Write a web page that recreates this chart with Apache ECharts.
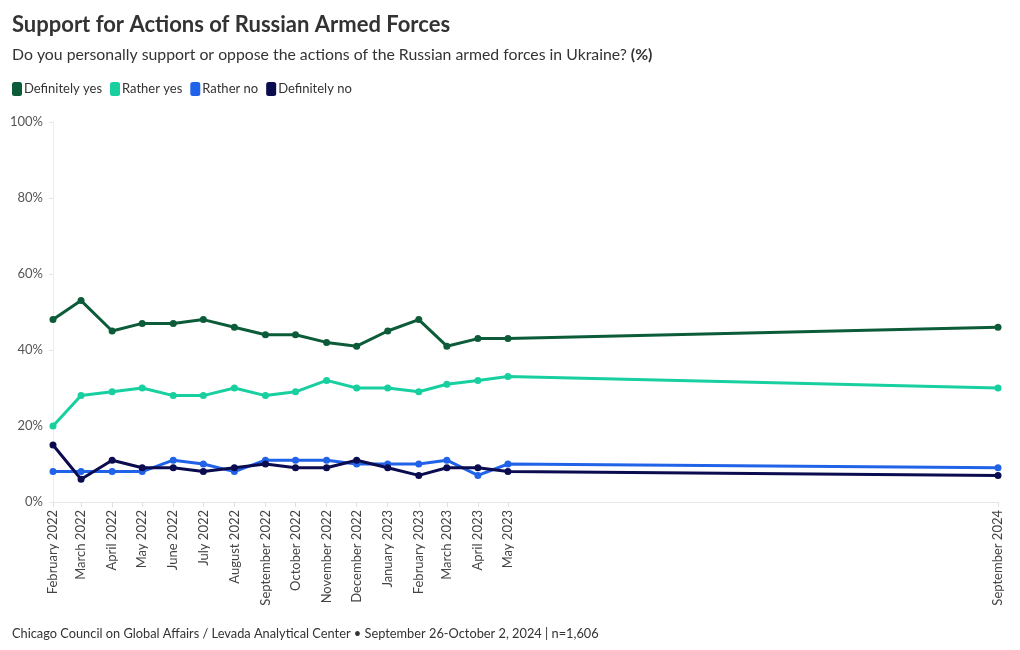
<!DOCTYPE html>
<html><head><meta charset="utf-8">
<script src="https://cdn.jsdelivr.net/npm/echarts@6/dist/echarts.min.js"></script>
<style>html,body{margin:0;padding:0;background:#fff}#c{width:1020px;height:650px}</style>
</head><body><div id="c"></div>
<script>
const months = ['2022-02-01','2022-03-01','2022-04-01','2022-05-01','2022-06-01','2022-07-01','2022-08-01','2022-09-01','2022-10-01','2022-11-01','2022-12-01','2023-01-01','2023-02-01','2023-03-01','2023-04-01','2023-05-01','2024-09-01'];
const monthNames = ['January','February','March','April','May','June','July','August','September','October','November','December'];
const definitelyYes = [48,53,45,47,47,48,46,44,44,42,41,45,48,41,43,43,46];
const ratherYes     = [20,28,29,30,28,28,30,28,29,32,30,30,29,31,32,33,30];
const ratherNo      = [8,8,8,8,11,10,8,11,11,11,10,10,10,11,7,10,9];
const definitelyNo  = [15,6,11,9,9,8,9,10,9,9,11,9,7,9,9,8,7];
const yTicks = [0,20,40,60,80,100];

const FONT = 'Lato';
const DAY = 86400000;
const times = months.map(m => { const [y,mo,d] = m.split('-').map(Number); return Date.UTC(y,mo-1,d) / DAY; });
function mk(name, data, color) {
  return {
    name, type: 'line', data: data.map((v,i)=>[times[i], v]),
    symbol: 'circle', symbolSize: 7, lineStyle: {width: 3, color}, itemStyle: {color},
    emphasis: {disabled: true}, z: 2
  };
}
const chart = echarts.init(document.getElementById('c'), null, {renderer: 'canvas'});
chart.setOption({
  animation: false,
  textStyle: {fontFamily: FONT},
  title: [
    {text: 'Support for Actions of Russian Armed Forces', left: 7, top: 9, textStyle: {fontFamily: FONT, fontSize: 22, fontWeight: 'bold', color: '#333'}},
    {text: 'Do you personally support or oppose the actions of the Russian armed forces in Ukraine? {b|(%)}', left: 7, top: 42,
     textStyle: {fontFamily: FONT, fontSize: 15.8, fontWeight: 'normal', color: '#333', rich: {b: {fontFamily: FONT, fontSize: 15.8, fontWeight: 'bold', color: '#333'}}}},
    {text: 'Chicago Council on Global Affairs / Levada Analytical Center • September 26-October 2, 2024 | n=1,606', left: 7, top: 622,
     textStyle: {fontFamily: FONT, fontSize: 12.8, fontWeight: 'normal', color: '#333'}}
  ],
  legend: {
    left: 7, top: 77, itemWidth: 10, itemHeight: 14, itemGap: 8,
    icon: 'roundRect',
    textStyle: {fontFamily: FONT, fontSize: 13, color: '#333', padding: [0,0,0,-3]},
    data: ['Definitely yes','Rather yes','Rather no','Definitely no']
  },
  grid: {left: 53, right: 22, top: 122, bottom: 148, containLabel: false},
  xAxis: {
    type: 'value', min: times[0], max: times[times.length-1],
    axisLine: {show: true, lineStyle: {color: '#e6e6e6'}},
    axisTick: {show: true, customValues: times, length: 5, lineStyle: {color: '#e0e0e0'}},
    splitLine: {show: false},
    axisLabel: {
      customValues: times, rotate: 90, fontFamily: FONT, fontSize: 13, color: '#444', margin: 8,
      formatter: v => { const d = new Date(v * DAY); return monthNames[d.getUTCMonth()] + ' ' + d.getUTCFullYear(); }
    }
  },
  yAxis: {
    type: 'value', min: 0, max: 100, interval: 20,
    axisLine: {show: true, lineStyle: {color: '#eeeeee'}},
    axisTick: {show: true, length: 4, lineStyle: {color: '#e6e6e6'}},
    splitLine: {show: false},
    axisLabel: {fontFamily: FONT, fontSize: 13, color: '#555', margin: 10, formatter: v => yTicks.includes(v) ? v + '%' : ''}
  },
  series: [
    mk('Definitely yes', definitelyYes, '#0c5b39'),
    mk('Rather yes', ratherYes, '#17cf9f'),
    mk('Rather no', ratherNo, '#2163e8'),
    mk('Definitely no', definitelyNo, '#0b0b4f')
  ]
});
</script></body></html>
